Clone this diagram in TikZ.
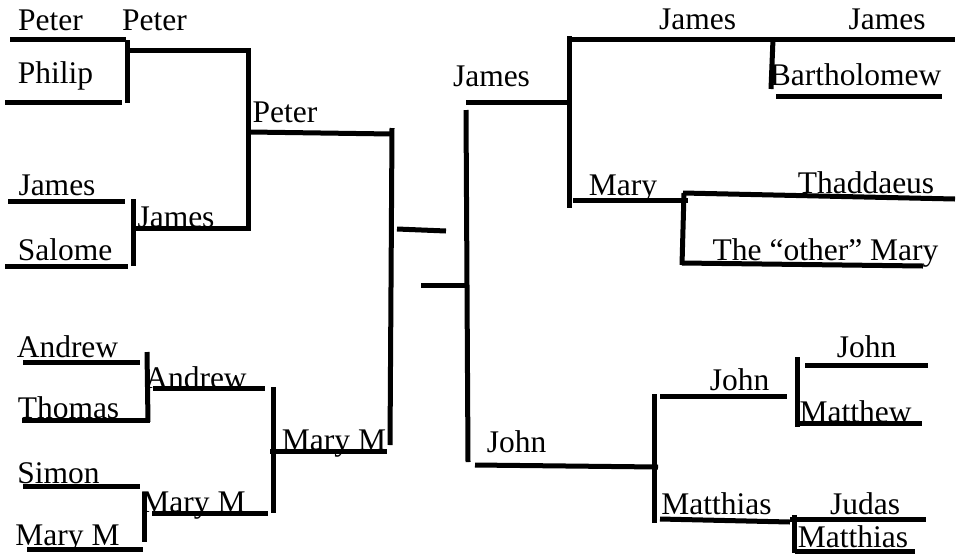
\documentclass[tikz,border=0pt]{standalone}
\usepackage{fontspec}
\setmainfont{Liberation Serif}
\usepackage{tikz}
\newcommand\namefont{\fontsize{31.5}{36}\selectfont}
\tikzset{
	bar/.style={line width=5pt, line join=miter},
	who/.style={font=\namefont, anchor=base, inner sep=0pt, outer sep=0pt},
}
\begin{document}
\begin{tikzpicture}[x=1pt, y=-1pt]
	\useasboundingbox (0,0) rectangle (958,555);
	% left half
	\node[who] at (50.5,30) (peterA) {Peter};
	\node[who] at (55.5,83) (philip) {Philip};
	\node[who] at (154.5,30) (peterB) {Peter};
	\node[who] at (57,195) (jamesA) {James};
	\node[who] at (65,260) (salome) {Salome};
	\node[who] at (176,227) (jamesB) {James};
	\node[who] at (285,122) (peterC) {Peter};
	\node[who] at (67.5,357) (andrewA) {Andrew};
	\node[who] at (68.5,418) (thomas) {Thomas};
	\node[who] at (196,388) (andrewB) {Andrew};
	\node[who] at (58.5,483) (simon) {Simon};
	\node[who] at (67.5,545) (marymA) {Mary M};
	\node[who] at (193.5,512) (marymB) {Mary M};
	\node[who] at (334,450) (marymC) {Mary M};
	% right half
	\node[who] at (491.5,86) (jamesR3) {James};
	\node[who] at (697.5,29) (jamesR2) {James};
	\node[who] at (887,29) (jamesR1) {James};
	\node[who] at (855.5,85) (bartholomew) {Bartholomew};
	\node[who] at (623,195) (mary) {Mary};
	\node[who] at (866,193) (thaddaeus) {Thaddaeus};
	\node[who] at (825.5,260) (othermary) {The “other” Mary};
	\node[who] at (516.5,452) (johnR3) {John};
	\node[who] at (739.5,390) (johnR2) {John};
	\node[who] at (866.5,357) (johnR1) {John};
	\node[who] at (855.5,422) (matthew) {Matthew};
	\node[who] at (716.5,514) (matthiasR2) {Matthias};
	\node[who] at (865,514) (judas) {Judas};
	\node[who] at (853,547) (matthiasR1) {Matthias};
	% bracket lines, left
	\draw[bar] (10,39) -- (126,39);
	\draw[bar] (5,102) -- (122,102);
	\draw[bar] (127,40) -- (127,103);
	\draw[bar] (128,50) -- (248,50) -- (248,228) -- (135,228);
	\draw[bar] (8,201) -- (125,201);
	\draw[bar] (5,266) -- (128,266);
	\draw[bar] (133,199) -- (133,266);
	\draw[bar] (250,132) -- (392,134);
	\draw[bar] (392,128) -- (390,445);
	\draw[bar] (23,362) -- (140,362);
	\draw[bar] (147,352) -- (148,422);
	\draw[bar] (22,420) -- (150,420);
	\draw[bar] (153,388) -- (265,388);
	\draw[bar] (273,387) -- (273,513);
	\draw[bar] (270,451) -- (387,451);
	\draw[bar] (23,486) -- (140,486);
	\draw[bar] (144,492) -- (144,542);
	\draw[bar] (152,513) -- (268,513);
	\draw[bar] (27,549) -- (143,549);
	% centre
	\draw[bar] (397,229) -- (446,231);
	\draw[bar] (421,285) -- (466,285);
	\draw[bar] (466,110) -- (468,462);
	% bracket lines, right
	\draw[bar] (466,102) -- (568,102);
	\draw[bar] (569,36) -- (569,208);
	\draw[bar] (569,39) -- (955,39);
	\draw[bar] (773,39) -- (771,89);
	\draw[bar] (776,96) -- (942,96);
	\draw[bar] (573,200) -- (688,200);
	\draw[bar] (683,193) -- (955,199);
	\draw[bar] (684,193) -- (682,265);
	\draw[bar] (682,263) -- (923,266);
	\draw[bar] (475,465) -- (658,467);
	\draw[bar] (654,394) -- (654,523);
	\draw[bar] (660,396) -- (787,396);
	\draw[bar] (797,357) -- (797,427);
	\draw[bar] (805,365) -- (928,365);
	\draw[bar] (798,423) -- (922,423);
	\draw[bar] (660,519) -- (790,522);
	\draw[bar] (794,515) -- (794,553);
	\draw[bar] (790,519) -- (926,519);
	\draw[bar] (795,551) -- (915,551);
\end{tikzpicture}
\end{document}
